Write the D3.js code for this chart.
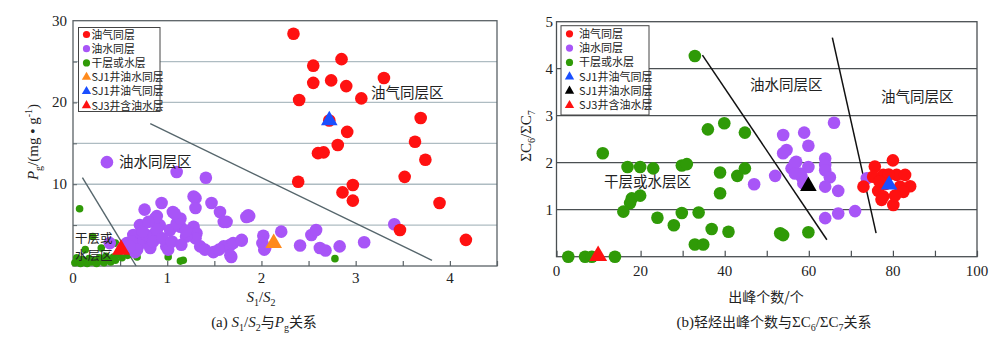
<!DOCTYPE html>
<html><head><meta charset="utf-8">
<script src="https://cdn.jsdelivr.net/npm/d3@7/dist/d3.min.js"></script>
<style>
body{margin:0;background:#fff;}
text{font-family:"Liberation Serif","Times New Roman",serif;}
.cjk{font-family:"Noto Sans CJK SC",sans-serif;}
</style></head>
<body><svg id="c" width="1000" height="342"></svg>
<script>
// ---------- data: chart (a) S1/S2 vs Pg ----------
const aRed = [[2.34,28.4],[2.55,24.5],[2.85,25.3],[2.55,22.4],[2.74,22.7],[2.90,22.0],[2.40,20.3],[3.06,20.5],[3.30,23.0],[3.69,18.1],[2.72,17.8],[2.91,16.4],[2.81,14.8],[2.60,13.8],[2.66,13.9],[3.63,15.2],[3.74,13.0],[3.52,10.9],[2.39,10.3],[2.97,9.9],[2.86,9.0],[2.97,8.0],[3.89,7.7],[3.47,4.4],[4.17,3.2]];
const aPurple = [[0.36,12.7],[1.10,11.5],[1.41,10.8],[1.87,6.1],[1.79,3.1],[2.02,3.7],[2.01,2.8],[2.03,2.0],[2.21,4.2],[2.41,2.5],[2.53,3.8],[2.58,4.4],[2.62,2.2],[2.68,1.9],[2.83,2.4],[3.09,2.9],[3.41,5.1],[1.68,1.1],[1.67,2.6],[0.76,6.9],[0.94,7.7],[1.06,6.6],[0.89,6.1],[1.30,8.3],[1.30,7.1],[1.47,7.7],[1.56,6.6],[1.60,5.4],[1.86,6.2],[0.71,5.0],[0.92,5.0],[1.03,4.4],[1.14,4.8],[1.28,4.8],[1.31,4.0],[0.64,3.8],[0.75,3.2],[0.57,2.8],[0.82,2.2],[0.99,2.4],[1.01,2.0],[1.35,2.4],[1.49,1.7],[1.60,2.4],[1.70,2.8],[1.79,3.2],[1.67,1.3],[2.04,2.2],[0.87,4.0],[1.10,5.2],[1.14,5.8],[0.66,1.7],[0.39,2.8],[1.08,6.4],[0.87,5.8],[1.28,8.5],[1.63,5.4],[1.84,6.0],[1.30,3.4],[0.78,3.8],[0.89,4.4],[0.53,2.2],[0.70,2.6],[1.20,3.6],[1.40,2.0],[1.55,2.0],[0.62,3.0],[0.68,2.0],[0.74,4.2],[0.85,3.0],[0.95,3.4],[1.05,3.0],[1.15,2.6],[0.80,5.4],[1.20,4.3],[0.60,2.4]];
const aGreen = [[0.02,0.4],[0.05,0.6],[0.08,0.3],[0.10,0.8],[0.12,0.5],[0.15,0.3],[0.17,0.9],[0.20,0.5],[0.22,0.7],[0.25,0.3],[0.28,1.0],[0.30,0.6],[0.33,0.4],[0.35,1.2],[0.38,0.8],[0.40,0.5],[0.43,1.1],[0.45,0.7],[0.48,1.4],[0.04,1.0],[0.13,2.0],[0.21,3.6],[0.30,2.2],[0.45,2.8],[0.07,7.0],[0.68,2.2],[0.68,1.1],[1.01,1.1],[1.14,0.6],[1.17,0.7],[2.78,0.9],[0.52,1.0],[0.58,1.3]];
const aTriOrange = [[2.13,2.8]];
const aTriBlue = [[2.72,17.8]];
const aTriRed = [[0.51,2.0]];
const aLines = [[[0.10,10.8],[0.67,0]],[[0.82,17.4],[3.81,0.7]]];
const aXTicks = [0,1,2,3,4];
const aYTicks = [10,20,30];
const aGrid = [5,10,15,20,25];
const aLegend = ["油气同层","油水同层","干层或水层","SJ1井油水同层","SJ1井油气同层","SJ3井含油水层"];

// ---------- data: chart (b) peak count vs ΣC6/ΣC7 ----------
const bGreen = [[32.9,4.27],[36.0,2.71],[39.9,2.84],[44.8,2.64],[11.0,2.20],[16.9,1.91],[19.9,1.91],[23.0,1.88],[29.8,1.94],[31.0,1.97],[38.9,1.79],[43.0,1.72],[44.8,1.88],[38.9,1.35],[17.9,1.24],[17.5,1.14],[19.9,1.30],[15.9,0.96],[24.0,0.83],[27.9,0.67],[29.8,0.93],[33.8,0.94],[36.9,0.59],[40.9,0.53],[32.9,0.26],[34.9,0.26],[2.8,0],[6.8,0],[8.4,0],[13.9,0],[53.2,0.50],[53.9,0.46],[59.9,0.52]];
const bPurple = [[66.0,2.85],[53.9,2.59],[58.9,2.64],[59.9,2.36],[54.7,2.27],[53.9,2.20],[63.9,2.09],[63.9,1.95],[57.0,2.02],[55.9,1.88],[59.9,1.91],[57.9,1.77],[63.9,1.84],[65.0,1.69],[58.7,1.56],[63.9,1.49],[67.0,1.40],[52.0,1.72],[73.8,1.67],[71.0,0.97],[67.0,0.92],[63.9,0.82],[47.0,1.54],[56.7,1.99],[58.3,1.70],[56.7,1.77]];
const bRed = [[75.7,1.92],[80.0,2.05],[77.7,1.74],[80.9,1.74],[82.9,1.74],[73.0,1.49],[76.5,1.40],[81.7,1.49],[84.1,1.50],[77.7,1.28],[80.1,1.10],[82.5,1.38],[75.3,1.70],[77.3,1.21],[79.0,1.75],[78.3,1.55],[80.5,1.30],[76.8,1.60]];
const bTriBlue = [[79.1,1.53]];
const bTriBlack = [[59.9,1.50]];
const bTriRed = [[9.9,0.02]];
const bLines = [[[34.7,4.29],[64.3,0.36]],[[65.6,4.66],[76.0,0.50]]];
const bXTicks = [0,20,40,60,80,100];
const bXMinor = [10,30,50,70,90];
const bYTicks = [1,2,3,4,5];
const bGrid = [1,2,3,4];
const bLegend = ["油气同层","油水同层","干层或水层","SJ1井油气同层","SJ1井油水同层","SJ3井含油水层"];

const RED="#ff1111", PURPLE="#a855f7", GREEN="#2f9a07", ORANGE="#ff8a1c", BLUE="#1a4fff", BLACK="#000";

const svg = d3.select("#c");

// ================= chart (a) =================
const xA = d3.scaleLinear().domain([0,4.5]).range([73,497]);
const yA = d3.scaleLinear().domain([0,30]).range([266,20.7]);
const gA = svg.append("g");
gA.selectAll(".ga").data(aGrid).join("line")
  .attr("x1",xA(0)).attr("x2",xA(4.5)).attr("y1",d=>yA(d)).attr("y2",d=>yA(d))
  .attr("stroke","#aebcc2").attr("stroke-width",1.3);
gA.append("rect").attr("x",xA(0)).attr("y",yA(30)).attr("width",xA(4.5)-xA(0)).attr("height",yA(0)-yA(30))
  .attr("fill","none").attr("stroke","#5a6266").attr("stroke-width",1.3);
const axA = d3.axisBottom(xA).tickValues(d3.range(0,4.51,0.5)).tickSize(-5).tickFormat("");
gA.append("g").attr("transform",`translate(0,${yA(0)})`).call(axA)
  .call(g=>{g.select(".domain").remove(); g.selectAll("line").attr("stroke","#5a6266").attr("stroke-width",1.2);});
const ayA = d3.axisLeft(yA).tickValues([5,10,15,20,25]).tickSize(-4).tickFormat("");
gA.append("g").attr("transform",`translate(${xA(0)},0)`).call(ayA)
  .call(g=>{g.select(".domain").remove(); g.selectAll("line").attr("stroke","#5a6266");});
gA.selectAll(".xl").data(aXTicks).join("text").attr("x",d=>xA(d)).attr("y",283)
  .attr("text-anchor","middle").attr("font-size",15).attr("fill","#222").text(d=>d);
gA.selectAll(".yl").data(aYTicks).join("text").attr("x",67).attr("y",d=>yA(d)+5)
  .attr("text-anchor","end").attr("font-size",15).attr("fill","#222").text(d=>d);
gA.selectAll(".ln").data(aLines).join("line")
  .attr("x1",d=>xA(d[0][0])).attr("y1",d=>yA(d[0][1])).attr("x2",d=>xA(d[1][0])).attr("y2",d=>yA(d[1][1]))
  .attr("stroke","#56666c").attr("stroke-width",1.4);
function dots(g,data,x,y,r,color){
  g.append("g").selectAll("circle").data(data).join("circle")
   .attr("cx",d=>x(d[0])).attr("cy",d=>y(d[1])).attr("r",r).attr("fill",color);
}
function tris(g,data,x,y,size,color){
  g.append("g").selectAll("path").data(data).join("path")
   .attr("d",d3.symbol(d3.symbolTriangle,size)())
   .attr("transform",d=>`translate(${x(d[0])},${y(d[1])})`).attr("fill",color);
}
dots(gA,aGreen,xA,yA,3.8,GREEN);
dots(gA,aPurple,xA,yA,6.3,PURPLE);
dots(gA,aRed,xA,yA,6.3,RED);
tris(gA,aTriOrange,xA,yA,120,ORANGE);
tris(gA,aTriBlue,xA,yA,120,BLUE);
tris(gA,aTriRed,xA,yA,140,RED);
gA.append("text").attr("class","cjk").attr("x",119).attr("y",167).attr("font-size",14.5).attr("fill","#222").text("油水同层区");
gA.append("text").attr("class","cjk").attr("x",371).attr("y",98).attr("font-size",14.5).attr("fill","#222").text("油气同层区");
gA.append("text").attr("class","cjk").attr("x",75).attr("y",243).attr("font-size",12.5).attr("fill","#222").text("干层或");
gA.append("text").attr("class","cjk").attr("x",75).attr("y",260).attr("font-size",12.5).attr("fill","#222").text("水层区");
const legA = gA.append("g");
legA.append("rect").attr("x",78.5).attr("y",27.5).attr("width",81.5).attr("height",84).attr("fill","#fff").attr("stroke","#444").attr("stroke-width",1);
const legAMark = [["c",RED],["c",PURPLE],["c",GREEN],["t",ORANGE],["t",BLUE],["t",RED]];
aLegend.forEach((t,i)=>{
  const yy = 34.5 + i*14.2;
  const m = legAMark[i];
  if(m[0]==="c") legA.append("circle").attr("cx",86.5).attr("cy",yy).attr("r",3.6).attr("fill",m[1]);
  else legA.append("path").attr("d",d3.symbol(d3.symbolTriangle,38)()).attr("transform",`translate(86.5,${yy})`).attr("fill",m[1]);
  legA.append("text").attr("class","cjk").attr("x",91.5).attr("y",yy+4).attr("font-size",10.8).attr("fill","#222").text(t);
});
const xtA = gA.append("text").attr("x",261).attr("y",302).attr("text-anchor","middle").attr("font-size",15).attr("fill","#222");
xtA.append("tspan").attr("font-style","italic").text("S");
xtA.append("tspan").attr("font-size",10).attr("dy",4).text("1");
xtA.append("tspan").attr("dy",-4).text("/");
xtA.append("tspan").attr("font-style","italic").text("S");
xtA.append("tspan").attr("font-size",10).attr("dy",4).text("2");
const ytA = gA.append("text").attr("transform","translate(38,142) rotate(-90)").attr("text-anchor","middle").attr("font-size",15).attr("fill","#222");
ytA.append("tspan").attr("font-style","italic").text("P");
ytA.append("tspan").attr("font-size",10).attr("dy",4).text("g");
ytA.append("tspan").attr("dy",-4).text("/(mg • g");
ytA.append("tspan").attr("font-size",10).attr("dy",-6).text("-1");
ytA.append("tspan").attr("dy",6).text(")");
const capA = gA.append("text").attr("x",264).attr("y",327).attr("text-anchor","middle").attr("font-size",15).attr("fill","#222");
capA.append("tspan").text("(a) ");
capA.append("tspan").attr("font-style","italic").text("S");
capA.append("tspan").attr("font-size",10).attr("dy",4).text("1");
capA.append("tspan").attr("dy",-4).text("/");
capA.append("tspan").attr("font-style","italic").text("S");
capA.append("tspan").attr("font-size",10).attr("dy",4).text("2");
capA.append("tspan").attr("dy",-4).attr("class","cjk").attr("font-size",14).text("与");
capA.append("tspan").attr("font-style","italic").text("P");
capA.append("tspan").attr("font-size",10).attr("dy",4).text("g");
capA.append("tspan").attr("dy",-4).attr("class","cjk").attr("font-size",14).text("关系");

// ================= chart (b) =================
const xB = d3.scaleLinear().domain([0,100]).range([556.5,977]);
const yB = d3.scaleLinear().domain([0,5]).range([256.7,21.7]);
const gB = svg.append("g");
gB.selectAll(".gb").data(bGrid).join("line")
  .attr("x1",xB(0)).attr("x2",xB(100)).attr("y1",d=>yB(d)).attr("y2",d=>yB(d))
  .attr("stroke","#4a4f52").attr("stroke-width",1.2);
gB.append("rect").attr("x",xB(0)).attr("y",yB(5)).attr("width",xB(100)-xB(0)).attr("height",yB(0)-yB(5))
  .attr("fill","none").attr("stroke","#4a4f52").attr("stroke-width",1.3);
const axB = d3.axisBottom(xB).tickValues(bXMinor.concat(bXTicks)).tickSize(-6).tickFormat("");
gB.append("g").attr("transform",`translate(0,${yB(0)})`).call(axB)
  .call(g=>{g.select(".domain").remove(); g.selectAll("line").attr("stroke","#4a4f52").attr("stroke-width",1.2);});
gB.selectAll(".xl").data(bXTicks).join("text").attr("x",d=>xB(d)).attr("y",276)
  .attr("text-anchor","middle").attr("font-size",15).attr("fill","#222").text(d=>d);
gB.selectAll(".yl").data(bYTicks).join("text").attr("x",553).attr("y",d=>yB(d)+5)
  .attr("text-anchor","end").attr("font-size",15).attr("fill","#222").text(d=>d);
gB.selectAll(".ln").data(bLines).join("line")
  .attr("x1",d=>xB(d[0][0])).attr("y1",d=>yB(d[0][1])).attr("x2",d=>xB(d[1][0])).attr("y2",d=>yB(d[1][1]))
  .attr("stroke","#111").attr("stroke-width",1.5);
dots(gB,bGreen,xB,yB,6.3,GREEN);
dots(gB,bPurple,xB,yB,6.3,PURPLE);
dots(gB,bRed,xB,yB,6.3,RED);
tris(gB,bTriBlue,xB,yB,120,BLUE);
tris(gB,bTriBlack,xB,yB,120,BLACK);
tris(gB,bTriRed,xB,yB,140,RED);
gB.append("text").attr("class","cjk").attr("x",604).attr("y",187).attr("font-size",14.5).attr("fill","#222").text("干层或水层区");
gB.append("text").attr("class","cjk").attr("x",750).attr("y",90).attr("font-size",14.5).attr("fill","#222").text("油水同层区");
gB.append("text").attr("class","cjk").attr("x",881).attr("y",102).attr("font-size",14.5).attr("fill","#222").text("油气同层区");
const legB = gB.append("g");
legB.append("rect").attr("x",561).attr("y",25.7).attr("width",88).attr("height",89.3).attr("fill","#fff").attr("stroke","#444").attr("stroke-width",1);
const legBMark = [["c",RED],["c",PURPLE],["c",GREEN],["t",BLUE],["t",BLACK],["t",RED]];
bLegend.forEach((t,i)=>{
  const yy = 33.8 + i*14.3;
  const m = legBMark[i];
  if(m[0]==="c") legB.append("circle").attr("cx",569.5).attr("cy",yy).attr("r",3.6).attr("fill",m[1]);
  else legB.append("path").attr("d",d3.symbol(d3.symbolTriangle,38)()).attr("transform",`translate(569.5,${yy})`).attr("fill",m[1]);
  legB.append("text").attr("class","cjk").attr("x",579).attr("y",yy+4).attr("font-size",11).attr("fill","#222").text(t);
});
gB.append("text").attr("class","cjk").attr("x",766).attr("y",302).attr("text-anchor","middle").attr("font-size",14).attr("fill","#222").text("出峰个数/个");
const ytB = gB.append("text").attr("transform","translate(531,136) rotate(-90)").attr("text-anchor","middle").attr("font-size",15).attr("fill","#222");
ytB.append("tspan").text("ΣC");
ytB.append("tspan").attr("font-size",10).attr("dy",4).text("6");
ytB.append("tspan").attr("dy",-4).text("/ΣC");
ytB.append("tspan").attr("font-size",10).attr("dy",4).text("7");
const capB = gB.append("text").attr("x",774).attr("y",327).attr("text-anchor","middle").attr("font-size",15).attr("fill","#222");
capB.append("tspan").text("(b)");
capB.append("tspan").attr("class","cjk").attr("font-size",14).text("轻烃出峰个数与");
capB.append("tspan").text("ΣC");
capB.append("tspan").attr("font-size",10).attr("dy",4).text("6");
capB.append("tspan").attr("dy",-4).text("/ΣC");
capB.append("tspan").attr("font-size",10).attr("dy",4).text("7");
capB.append("tspan").attr("dy",-4).attr("class","cjk").attr("font-size",14).text("关系");
</script></body></html>
